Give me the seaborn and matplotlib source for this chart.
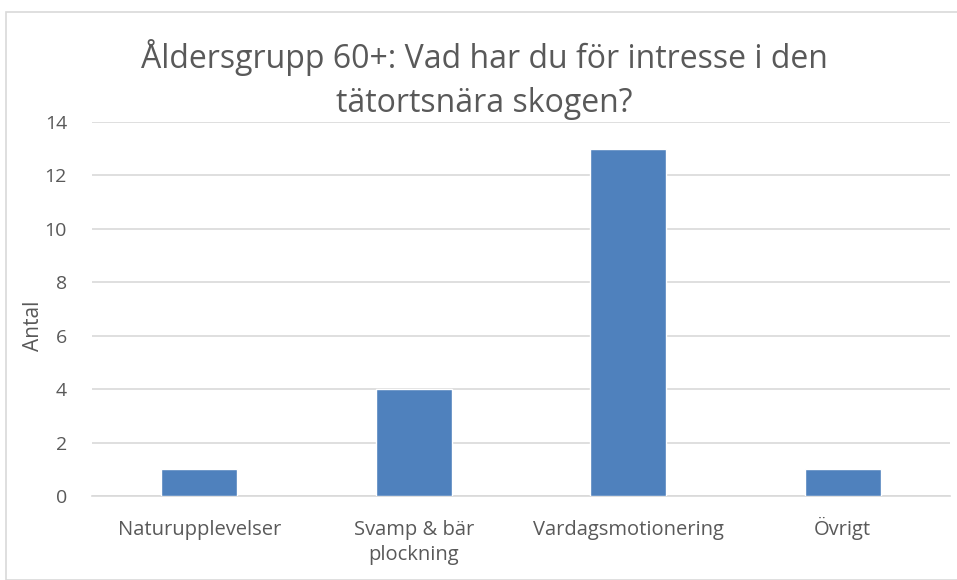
import numpy as np
import pandas as pd
import matplotlib
matplotlib.use("Agg")
import matplotlib.pyplot as plt
import seaborn as sns
from matplotlib.patches import Rectangle

# data
categories = ["Naturupplevelser", "Svamp & bär\nplockning", "Vardagsmotionering", "Övrigt"]
antal = [1, 4, 13, 1]
yticks = [0, 2, 4, 6, 8, 10, 12, 14]

df = pd.DataFrame({"kategori": categories, "antal": antal})

sns.set_style("white")
plt.rcParams['font.family'] = ['Open Sans', 'DejaVu Sans']

fig = plt.figure(figsize=(9.57, 5.8), dpi=100)
ax = fig.add_axes([92 / 957, 1 - 496 / 580, (950 - 92) / 957, (496 - 122) / 580])

sns.barplot(data=df, x="kategori", y="antal", color="#4F81BD", saturation=1,
            width=0.355, ax=ax, zorder=3)

ax.set_ylim(0, 14)
ax.set_xlim(-0.5, 3.5)
ax.set_yticks(yticks)
ax.yaxis.grid(True, color="#D9D9D9", linewidth=1.2, zorder=0)
ax.set_axisbelow(True)
for s in ["left", "right", "top"]:
    ax.spines[s].set_visible(False)
ax.spines["bottom"].set_color("#D9D9D9")
ax.spines["bottom"].set_linewidth(1.2)
ax.tick_params(axis="both", length=0, labelcolor="#595959")
ax.tick_params(axis="x", pad=28, labelsize=14.5)
ax.tick_params(axis="y", pad=18, labelsize=14)
# baseline-align the x labels so "Övrigt" sits on the same line as the others;
# the two-line label is moved down one line so its first line lines up
for lbl in ax.get_xticklabels():
    lbl.set_linespacing(1.35)
    lbl.set_va("baseline")
    if "\n" in lbl.get_text():
        lbl.set_y(-25 / 374)
ax.set_xlabel("")
ax.set_ylabel("Antal", fontsize=15, color="#595959")
ax.yaxis.set_label_coords(-0.056, 0.455)

fig.text(484 / 957, 1 - 39 / 580, "Åldersgrupp 60+: Vad har du för intresse i den\ntätortsnära skogen?",
         ha="center", va="top", fontsize=23, color="#595959", linespacing=1.42)

# chart frame
fig.patches.append(Rectangle((6 / 957, 0), 1, 1 - 12 / 580, transform=fig.transFigure,
                             fill=False, edgecolor="#D9D9D9", linewidth=1.2))

plt.savefig("out.png", dpi=100)
